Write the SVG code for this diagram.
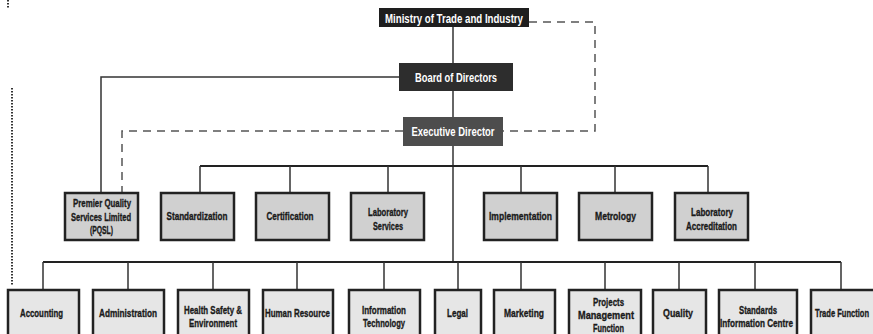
<svg xmlns="http://www.w3.org/2000/svg" width="873" height="334" viewBox="0 0 873 334">
<style>
text{font-family:"Liberation Sans","DejaVu Sans",sans-serif;font-weight:bold;text-anchor:middle}
.hd rect{stroke:none}
.hd text{fill:#fff;font-size:13.5px}
.t1 rect{fill:#d0d0d0;stroke:#222;stroke-width:2.5}
.t2 rect{fill:#e6e6e6;stroke:#222;stroke-width:2.5}
.t1 text,.t2 text{fill:#1a1a1a;font-size:11.5px;stroke:#1a1a1a;stroke-width:0.35}
.ln{fill:none;stroke:#333;stroke-width:1.5}
.bus{fill:none;stroke:#222;stroke-width:2}
.dash{fill:none;stroke:#555;stroke-width:1.5;stroke-dasharray:8,6}
.dot{fill:none;stroke:#333;stroke-width:2;stroke-dasharray:1.5,1.5}
</style>
<g id="connectors">
<path class="dot" d="M8,0V8"/>
<path class="dot" d="M12,88V286"/>
<path class="ln" d="M453,27V146"/>
<path class="ln" d="M453,146V262"/>
<path class="ln" d="M399,77H101V192"/>
<path class="dash" d="M529,22H595V131H503"/>
<path class="dash" d="M403,131H122V192"/>
<path class="bus" d="M200,166H708"/>
<path class="ln" d="M200,166V192M290,166V192M388,166V192M521,166V192M615,166V192M708,166V192"/>
<path class="bus" d="M43,262H841"/>
<path class="ln" d="M43,262V289M128,262V289M213,262V289M297,262V289M384,262V289M458,262V289M521,262V289M605,262V289M679,262V289M755,262V289M841,262V289"/>
</g>
<g id="ministry" class="hd"><rect x="379" y="8" width="150" height="19" fill="#1e1e1e"/><text x="454" y="22.5" textLength="138" lengthAdjust="spacingAndGlyphs">Ministry of Trade and Industry</text></g>
<g id="board" class="hd"><rect x="399" y="63" width="114" height="28" fill="#2d2d2d"/><text x="456" y="82" textLength="82" lengthAdjust="spacingAndGlyphs">Board of Directors</text></g>
<g id="exec" class="hd"><rect x="403" y="117" width="100" height="29" fill="#4d4d4d"/><text x="453" y="136" textLength="83" lengthAdjust="spacingAndGlyphs">Executive Director</text></g>

<g id="pqsl" class="t1"><rect x="65" y="193" width="73" height="47"/><text x="102" y="207" textLength="58" lengthAdjust="spacingAndGlyphs">Premier Quality</text><text x="101" y="220.5" textLength="60" lengthAdjust="spacingAndGlyphs">Services Limited</text><text x="101.5" y="234" textLength="23" lengthAdjust="spacingAndGlyphs">(PQSL)</text></g>
<g id="standardization" class="t1"><rect x="161" y="193" width="73" height="47"/><text x="197" y="220" textLength="61" lengthAdjust="spacingAndGlyphs">Standardization</text></g>
<g id="certification" class="t1"><rect x="256" y="193" width="73" height="47"/><text x="290" y="220" textLength="47" lengthAdjust="spacingAndGlyphs">Certification</text></g>
<g id="labservices" class="t1"><rect x="351" y="193" width="73" height="47"/><text x="388" y="216" textLength="40" lengthAdjust="spacingAndGlyphs">Laboratory</text><text x="388" y="230" textLength="30" lengthAdjust="spacingAndGlyphs">Services</text></g>
<g id="implementation" class="t1"><rect x="484" y="193" width="73" height="47"/><text x="520.5" y="220" textLength="63" lengthAdjust="spacingAndGlyphs">Implementation</text></g>
<g id="metrology" class="t1"><rect x="579" y="193" width="73" height="47"/><text x="615.5" y="220" textLength="41" lengthAdjust="spacingAndGlyphs">Metrology</text></g>
<g id="labaccred" class="t1"><rect x="675" y="193" width="73" height="47"/><text x="712" y="216" textLength="42" lengthAdjust="spacingAndGlyphs">Laboratory</text><text x="711.5" y="230" textLength="51" lengthAdjust="spacingAndGlyphs">Accreditation</text></g>

<g id="accounting" class="t2"><rect x="8" y="290" width="71" height="50"/><text x="41.5" y="317" textLength="43" lengthAdjust="spacingAndGlyphs">Accounting</text></g>
<g id="administration" class="t2"><rect x="93" y="290" width="71" height="50"/><text x="128" y="317" textLength="58" lengthAdjust="spacingAndGlyphs">Administration</text></g>
<g id="hse" class="t2"><rect x="178" y="290" width="71" height="50"/><text x="213" y="313.5" textLength="58" lengthAdjust="spacingAndGlyphs">Health Safety &amp;</text><text x="213" y="327" textLength="48" lengthAdjust="spacingAndGlyphs">Environment</text></g>
<g id="hr" class="t2"><rect x="263" y="290" width="70" height="50"/><text x="297.5" y="317" textLength="65" lengthAdjust="spacingAndGlyphs">Human Resource</text></g>
<g id="it" class="t2"><rect x="349" y="290" width="71" height="50"/><text x="384" y="313.5" textLength="44" lengthAdjust="spacingAndGlyphs">Information</text><text x="384" y="327" textLength="42" lengthAdjust="spacingAndGlyphs">Technology</text></g>
<g id="legal" class="t2"><rect x="435" y="290" width="46" height="50"/><text x="457.5" y="317" textLength="21" lengthAdjust="spacingAndGlyphs">Legal</text></g>
<g id="marketing" class="t2"><rect x="494" y="290" width="61" height="50"/><text x="524" y="317" textLength="40" lengthAdjust="spacingAndGlyphs">Marketing</text></g>
<g id="projects" class="t2"><rect x="569" y="290" width="72" height="50"/><text x="608.5" y="306" textLength="31" lengthAdjust="spacingAndGlyphs">Projects</text><text x="606" y="319" textLength="56" lengthAdjust="spacingAndGlyphs">Management</text><text x="608.5" y="332" textLength="31" lengthAdjust="spacingAndGlyphs">Function</text></g>
<g id="quality" class="t2"><rect x="653" y="290" width="53" height="50"/><text x="678" y="317" textLength="30" lengthAdjust="spacingAndGlyphs">Quality</text></g>
<g id="sic" class="t2"><rect x="719" y="290" width="78" height="50"/><text x="758" y="313.5" textLength="38" lengthAdjust="spacingAndGlyphs">Standards</text><text x="756.5" y="327" textLength="73" lengthAdjust="spacingAndGlyphs">Information Centre</text></g>
<g id="trade" class="t2"><rect x="811" y="290" width="72" height="50"/><text x="842" y="317" textLength="54" lengthAdjust="spacingAndGlyphs">Trade Function</text></g>
</svg>
